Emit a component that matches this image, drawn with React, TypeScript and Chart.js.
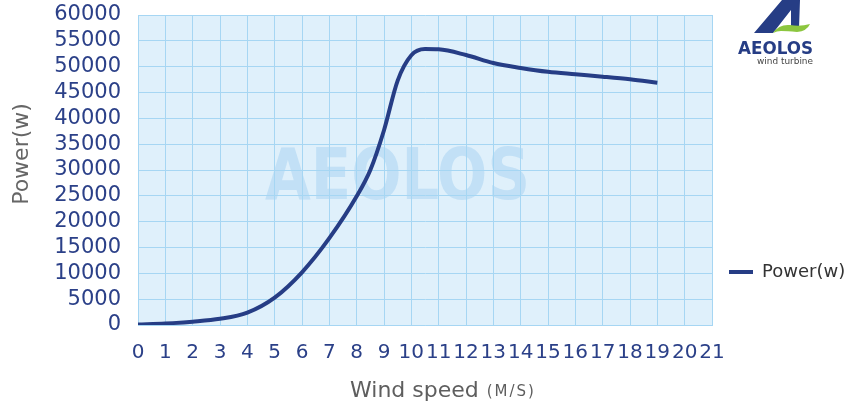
import React, { useEffect, useRef } from "react";
import { Chart, registerables } from "chart.js";

Chart.register(...registerables);

const windSpeed = [0, 1, 2, 3, 4, 5, 6, 7, 8, 8.5, 9, 9.5, 10, 10.5, 11, 12, 13, 14, 15, 16, 17, 18, 19];
const powerW = [100, 300, 650, 1200, 2400, 5300, 10200, 16800, 24900, 30000, 37700, 47300, 52200, 53400, 53350, 52250, 50700, 49750, 49000, 48520, 48060, 47550, 46900];
const seriesName = "Power(w)";
const xTitle = "Wind speed";
const xUnit = "(M/S)";
const yTitle = "Power(w)";
const watermark = "AEOLOS";
const logoName = "AEOLOS";
const logoSub = "wind turbine";

const NAVY = "#263d85";
const TICK = "#2b4088";
const GRID = "#a6d6f3";
const BG = "#dff0fb";

const decorPlugin = {
  id: "decor",
  beforeDraw(chart: any) {
    const { ctx, chartArea: a } = chart;
    ctx.save();
    ctx.fillStyle = BG;
    ctx.fillRect(a.left, a.top, a.right - a.left, a.bottom - a.top);
    // watermark
    ctx.font = "bold 72px 'DejaVu Sans'";
    const w = ctx.measureText(watermark).width;
    const target = 265;
    ctx.translate(265, 199);
    ctx.scale(target / w, 1);
    ctx.fillStyle = "rgba(170,212,243,0.55)";
    ctx.textBaseline = "alphabetic";
    ctx.textAlign = "left";
    ctx.fillText(watermark, 0, 0);
    ctx.restore();
  },
  afterDraw(chart: any) {
    const { ctx } = chart;
    ctx.save();
    // y title
    ctx.translate(22, 154);
    ctx.rotate(-Math.PI / 2);
    ctx.fillStyle = "#666666";
    ctx.font = "22px 'DejaVu Sans'";
    ctx.textAlign = "center";
    ctx.textBaseline = "middle";
    ctx.fillText(yTitle, 0, 0);
    ctx.restore();

    // x title
    ctx.save();
    ctx.fillStyle = "#5e5e5e";
    ctx.textBaseline = "alphabetic";
    ctx.textAlign = "left";
    ctx.font = "22px 'DejaVu Sans'";
    ctx.fillText(xTitle, 350, 397);
    const tw = ctx.measureText(xTitle).width;
    ctx.font = "15px 'DejaVu Sans'";
    (ctx as any).letterSpacing = "2px";
    ctx.fillText(xUnit, 350 + tw + 8, 396);
    (ctx as any).letterSpacing = "0px";
    ctx.restore();

    // legend
    ctx.save();
    ctx.strokeStyle = NAVY;
    ctx.lineWidth = 4;
    ctx.beginPath();
    ctx.moveTo(729, 272);
    ctx.lineTo(753, 272);
    ctx.stroke();
    ctx.fillStyle = "#333333";
    ctx.font = "18px 'DejaVu Sans'";
    ctx.textBaseline = "middle";
    ctx.fillText(seriesName, 762, 272);
    ctx.restore();

    // logo
    ctx.save();
    ctx.fillStyle = NAVY;
    ctx.beginPath();
    ctx.moveTo(754, 33);
    ctx.lineTo(782, 0);
    ctx.lineTo(800, 0);
    ctx.lineTo(799, 28);
    ctx.lineTo(791, 28);
    ctx.lineTo(791, 10);
    ctx.lineTo(773, 33);
    ctx.closePath();
    ctx.fill();
    ctx.fillStyle = "#8cc63f";
    ctx.beginPath();
    ctx.moveTo(773, 33);
    ctx.quadraticCurveTo(779, 24, 790, 25);
    ctx.quadraticCurveTo(800, 27, 810, 24);
    ctx.quadraticCurveTo(807, 31, 797, 32);
    ctx.quadraticCurveTo(787, 31, 781, 31);
    ctx.quadraticCurveTo(777, 31, 773, 33);
    ctx.closePath();
    ctx.fill();
    ctx.fillStyle = NAVY;
    ctx.font = "bold 18px 'DejaVu Sans'";
    ctx.textBaseline = "alphabetic";
    const lw = ctx.measureText(logoName).width;
    ctx.save();
    ctx.translate(738, 54);
    ctx.scale(75 / lw, 1);
    ctx.fillText(logoName, 0, 0);
    ctx.restore();
    ctx.fillStyle = "#444444";
    ctx.font = "9px 'DejaVu Sans'";
    const sw = ctx.measureText(logoSub).width;
    ctx.save();
    ctx.translate(757, 64);
    ctx.scale(56 / sw, 1);
    ctx.fillText(logoSub, 0, 0);
    ctx.restore();
    ctx.restore();
  },
};

export default function App() {
  const ref = useRef<HTMLCanvasElement | null>(null);
  useEffect(() => {
    if (!ref.current) return;
    const chart = new Chart(ref.current, {
      type: "line",
      data: {
        datasets: [
          {
            label: seriesName,
            data: windSpeed.map((x, i) => ({ x, y: powerW[i] })),
            borderColor: NAVY,
            backgroundColor: NAVY,
            borderWidth: 4,
            pointRadius: 0,
            cubicInterpolationMode: "monotone",
            fill: false,
          },
        ],
      },
      options: {
        responsive: true,
        maintainAspectRatio: false,
        animation: false,
        layout: { padding: { left: 0, right: 137, top: 15, bottom: 0 } },
        plugins: { legend: { display: false }, tooltip: { enabled: false } },
        scales: {
          x: {
            type: "linear",
            min: 0,
            max: 21,
            ticks: {
              stepSize: 1,
              color: TICK,
              font: { family: "'DejaVu Sans'", size: 20 },
              padding: 16,
              maxRotation: 0,
              autoSkip: false,
            },
            grid: { color: GRID, lineWidth: 1, drawTicks: false },
            border: { color: GRID },
            afterFit(scale: any) {
              scale.height = 83;
              scale.paddingLeft = 0;
              scale.paddingRight = 0;
            },
          },
          y: {
            min: 0,
            max: 60000,
            ticks: {
              stepSize: 5000,
              autoSkip: false,
              color: TICK,
              font: { family: "'DejaVu Sans'", size: 21 },
              padding: 17,
              callback: (v: any) => String(v),
            },
            grid: { color: GRID, lineWidth: 1, drawTicks: false },
            border: { color: GRID },
            afterFit(scale: any) {
              scale.width = 138;
              scale.paddingTop = 0;
              scale.paddingBottom = 0;
            },
          },
        },
      },
      plugins: [decorPlugin],
    } as any);
    return () => chart.destroy();
  }, []);
  return (
    <div style={{ position: "fixed", left: 0, top: 0, width: 849, height: 408, background: "#ffffff" }}>
      <canvas ref={ref} />
    </div>
  );
}
